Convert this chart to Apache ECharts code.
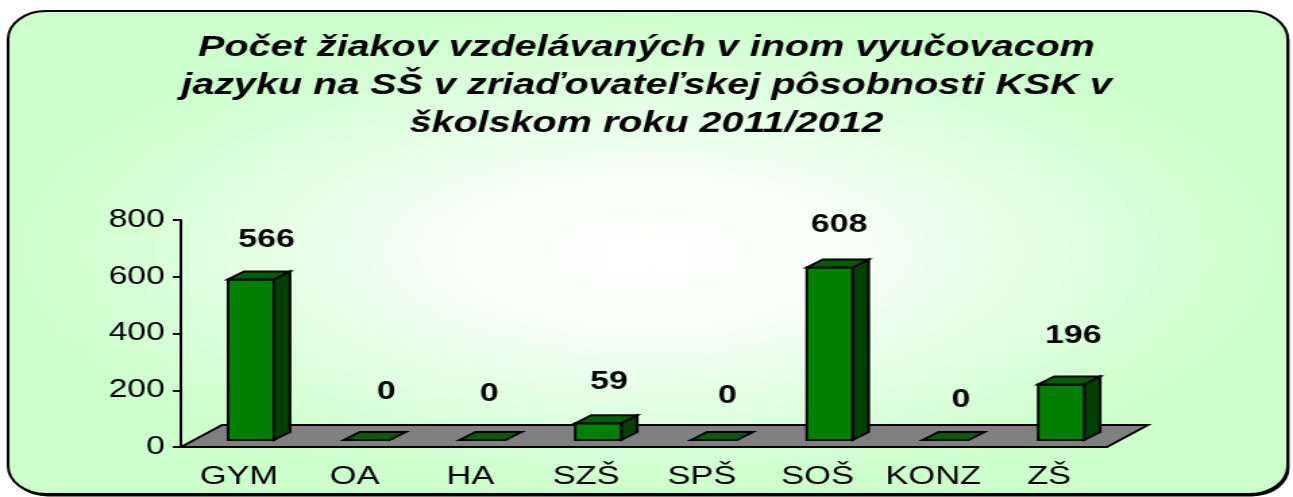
<!DOCTYPE html>
<html>
<head>
<meta charset="utf-8">
<script src="https://cdn.jsdelivr.net/npm/echarts@6/dist/echarts.min.js"></script>
<style>
html,body{margin:0;padding:0;background:#fff;overflow:hidden;width:1293px;height:497px}
#c{position:absolute;left:0;top:0;width:958px;height:497px;transform-origin:0 0;transform:scaleX(1.3497)}
</style>
</head>
<body>
<div id="c"></div>
<script>
const categories = ['GYM','OA','HA','SZŠ','SPŠ','SOŠ','KONZ','ZŠ'];
const values = [566,0,0,59,0,608,0,196];
const yTicks = [0,200,400,600,800];
const titleText = 'Počet žiakov vzdelávaných v inom vyučovacom\njazyku na SŠ v zriaďovateľskej pôsobnosti KSK v\nškolskom roku 2011/2012';

const chart = echarts.init(document.getElementById('c'), null, {renderer:'canvas', width:958, height:497});
const FONT = '"Liberation Sans", Arial, sans-serif';
const stroke = {stroke:'#000', lineWidth:2, lineJoin:'miter'};
// hand-placed label shifts, as in the source chart: [dx, dy]
const labelShift = [[1.5,4],[4.5,1],[-5,3],[-2,2],[0,5],[-3,1],[1.5,9],[-1,-5]];

function renderFloor(params, api){
  const cs = params.coordSys;
  const l = cs.x, r = cs.x + cs.width, b = cs.y + cs.height;
  const dx = 30.4, dy = 22;
  return {type:'polygon', shape:{points:[[l,b],[l+dx,b-dy],[r+dx,b-dy],[r,b]]},
    style:{fill:'#808080', ...stroke}, silent:true};
}
function renderBar(params, api){
  const i = api.value(0), v = api.value(1);
  const base = api.coord([i,0]), top = api.coord([i,v]);
  const w = 34, dx = 11.9, dy = 8, lift = 7;
  const xl = base[0] + 9 - w/2, xr = xl + w;
  const yb = base[1] - lift, yt = top[1] - lift;
  const kids = [];
  if (v > 0) {
    kids.push({type:'polygon', shape:{points:[[xr,yb],[xr+dx,yb-dy],[xr+dx,yt-dy],[xr,yt]]}, style:{fill:'#004000',...stroke}});
    kids.push({type:'polygon', shape:{points:[[xl,yb],[xr,yb],[xr,yt],[xl,yt]]}, style:{fill:'#008000',...stroke}});
  }
  kids.push({type:'polygon', shape:{points:[[xl,yt],[xl+dx,yt-dy],[xr+dx,yt-dy],[xr,yt]]}, style:{fill:'#006000',...stroke}});
  const s = labelShift[i];
  kids.push({type:'text', style:{text:String(v), x:(xl+xr)/2+10+s[0], y:yt-dy-(v>0?35:41)+s[1], align:'center', verticalAlign:'middle',
    font:'bold 25px '+FONT, fill:'#000'}});
  return {type:'group', children:kids, silent:true};
}

chart.setOption({
  animation:false,
  tooltip:{show:false},
  title:{text:titleText, left:'center', top:24,
    textStyle:{fontFamily:FONT, fontWeight:'bold', fontStyle:'italic', fontSize:29.3, lineHeight:38, color:'#000', align:'center'}},
  graphic:{elements:[
    {type:'rect', z:-30, shape:{x:7.4,y:12.4,width:948,height:484,r:28}, style:{fill:'#000'}, silent:true},
    {type:'rect', z:-20, shape:{x:6,y:11,width:948,height:483,r:28}, style:{fill:'#ccffcc',stroke:'#000',lineWidth:2}, silent:true},
    {type:'rect', z:-10, x:6, y:252.5-474*0.51, scaleY:0.51, shape:{x:1,y:0,width:946,height:946},
      style:{fill:new echarts.graphic.RadialGradient(0.5,0.5,0.5,[
        {offset:0,color:'rgba(255,255,255,1)'},{offset:0.3,color:'rgba(255,255,255,0.88)'},
        {offset:0.7,color:'rgba(255,255,255,0.35)'},{offset:1,color:'rgba(255,255,255,0)'}])}, silent:true}
  ]},
  grid:{left:134.1, width:686, top:220, height:227},
  xAxis:{type:'category', data:categories,
    axisLine:{lineStyle:{color:'#000',width:2}}, axisTick:{length:5,lineStyle:{color:'#000',width:2}},
    axisLabel:{fontFamily:FONT, fontSize:25.5, color:'#000', margin:17, interval:0}},
  yAxis:{type:'value', min:yTicks[0], max:yTicks[yTicks.length-1], interval:200,
    axisLine:{show:true,lineStyle:{color:'#000',width:2}}, axisTick:{show:true,length:6,lineStyle:{color:'#000',width:2}},
    splitLine:{show:false},
    axisLabel:{fontFamily:FONT, fontSize:25, color:'#000', margin:12, padding:[8,0,0,0]}},
  series:[
    {type:'custom', z:1, renderItem:renderFloor, data:[[0,0]], silent:true},
    {type:'custom', z:3, renderItem:renderBar, data:values.map((v,i)=>[i,v]), silent:true, clip:false}
  ]
});
</script>
</body>
</html>
